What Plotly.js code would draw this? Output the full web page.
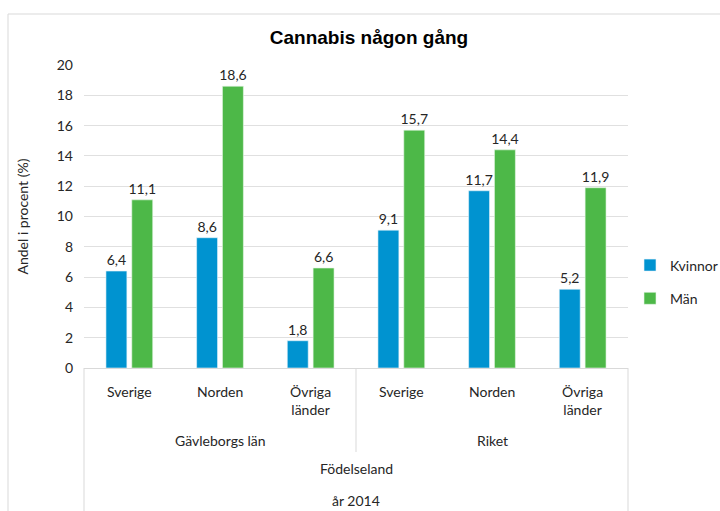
<!DOCTYPE html>
<html>
<head>
<meta charset="utf-8">
<script src="https://cdn.plot.ly/plotly-3.0.1.min.js"></script>
<style>
html,body{margin:0;padding:0;background:#fff;}
#chart{width:720px;height:511px;}
</style>
</head>
<body>
<div id="chart"></div>
<script>
// ---- data ----
var categories = ["Sverige", "Norden", "Övriga<br>länder", "Sverige", "Norden", "Övriga<br>länder"];
var groups = ["Gävleborgs län", "Riket"];
var groupOf = [0, 0, 0, 1, 1, 1];
var kvinnor = [6.4, 8.6, 1.8, 9.1, 11.7, 5.2];
var man = [11.1, 18.6, 6.6, 15.7, 14.4, 11.9];
var seriesNames = ["Kvinnor", "Män"];
var level3Label = "Födelseland";
var level4Label = "år 2014";
var yTicks = [0, 2, 4, 6, 8, 10, 12, 14, 16, 18, 20];
var chartTitle = "Cannabis någon gång";
var yTitle = "Andel i procent (%)";

// ---- layout helpers ----
var W = 720, H = 511;
var mL = 84, mR = 92, mT = 65, mB = 143;
var pw = W - mL - mR, ph = H - mT - mB;
function px(x) { return (x - mL) / pw; }
function py(y) { return (H - mB - y) / ph; }

var FONT = "Lato, 'Open Sans', sans-serif";
var TXT = "#262626";
var idx = categories.map(function (_, i) { return i; });
function fmt(v) { return v.toFixed(1).replace(".", ","); }

var traces = [
  {
    type: "bar", name: seriesNames[0], x: idx, y: kvinnor,
    text: kvinnor.map(fmt), textposition: "outside", cliponaxis: false, constraintext: "none",
    textfont: { family: FONT, size: 14, color: TXT },
    marker: { color: "#0093D0", line: { color: "#e8f4fa", width: 0.6 } },
    legendgroup: "a", hoverinfo: "none"
  },
  {
    type: "bar", name: seriesNames[1], x: idx, y: man,
    text: man.map(fmt), textposition: "outside", cliponaxis: false, constraintext: "none",
    textfont: { family: FONT, size: 14, color: TXT },
    marker: { color: "#4DB848", line: { color: "#e8f6e7", width: 0.6 } },
    legendgroup: "b", hoverinfo: "none"
  }
];

var annotations = [];
// level 1: category labels
categories.forEach(function (c, i) {
  annotations.push({
    x: i, xref: "x", y: py(381), yref: "paper", yanchor: "top",
    text: c, showarrow: false, align: "center",
    font: { family: FONT, size: 14, color: TXT }
  });
});
// level 2: groups
groups.forEach(function (g, gi) {
  var members = idx.filter(function (i) { return groupOf[i] === gi; });
  var cx = (members[0] + members[members.length - 1]) / 2;
  annotations.push({
    x: cx, xref: "x", y: py(440), yref: "paper", yanchor: "middle",
    text: g, showarrow: false,
    font: { family: FONT, size: 14, color: TXT }
  });
});
// levels 3 and 4
annotations.push({
  x: 0.5, xref: "paper", y: py(468), yref: "paper", yanchor: "middle",
  text: level3Label, showarrow: false, font: { family: FONT, size: 14, color: TXT }
});
annotations.push({
  x: 0.5, xref: "paper", y: py(500), yref: "paper", yanchor: "middle",
  text: level4Label, showarrow: false, font: { family: FONT, size: 14, color: TXT }
});
// y-axis title
annotations.push({
  x: px(22), xref: "paper", y: 0.5, yref: "paper", xanchor: "center", yanchor: "middle",
  text: yTitle, textangle: -90, showarrow: false, font: { family: FONT, size: 14, color: TXT }
});

var lineCol = "#d9d9d9";
var shapes = [
  // outer chart border (left + top)
  { type: "line", xref: "paper", yref: "paper", x0: px(8), x1: px(8), y0: py(14), y1: py(H + 5), line: { color: lineCol, width: 1 } },
  { type: "line", xref: "paper", yref: "paper", x0: px(8), x1: px(W + 5), y0: py(14), y1: py(14), line: { color: lineCol, width: 1 } },
  // category box outer verticals
  { type: "line", xref: "paper", yref: "paper", x0: 0, x1: 0, y0: 0, y1: py(H + 5), line: { color: lineCol, width: 1 } },
  { type: "line", xref: "paper", yref: "paper", x0: 1, x1: 1, y0: 0, y1: py(H + 5), line: { color: lineCol, width: 1 } }
];
// group separators
for (var i = 1; i < categories.length; i++) {
  if (groupOf[i] !== groupOf[i - 1]) {
    shapes.push({ type: "line", xref: "x", yref: "paper", x0: i - 0.5, x1: i - 0.5, y0: 0, y1: py(452), line: { color: lineCol, width: 1 } });
  }
}

var layout = {
  width: W, height: H,
  margin: { l: mL, r: mR, t: mT, b: mB, pad: 0, autoexpand: false },
  paper_bgcolor: "#fff", plot_bgcolor: "#fff",
  separators: ", ",
  barmode: "group", bargap: 0.43, bargroupgap: 0.19,
  title: {
    text: "<b>" + chartTitle + "</b>",
    x: 369 / W, xref: "container", xanchor: "center",
    y: 1 - 37 / H, yref: "container", yanchor: "middle",
    font: { family: "'Liberation Sans', Arial, sans-serif", size: 19, color: "#000" }
  },
  xaxis: {
    range: [-0.5, categories.length - 0.5], showticklabels: false,
    showgrid: false, zeroline: false, showline: true, linecolor: lineCol, linewidth: 1,
    ticks: "", fixedrange: true, automargin: false
  },
  yaxis: {
    range: [0, 20], tickvals: yTicks, ticktext: yTicks.map(String),
    showgrid: true, gridcolor: "#e0e0e0", gridwidth: 1,
    zeroline: false, showline: false, ticks: "", ticklabelstandoff: 10,
    tickfont: { family: FONT, size: 14, color: TXT },
    fixedrange: true, automargin: false
  },
  legend: {
    xref: "container", yref: "container",
    x: 630 / W, xanchor: "left", y: 1 - 282 / H, yanchor: "middle",
    font: { family: FONT, size: 14, color: TXT },
    tracegroupgap: 12, bgcolor: "rgba(0,0,0,0)", itemwidth: 30
  },
  annotations: annotations,
  shapes: shapes,
  showlegend: true
};

Plotly.newPlot("chart", traces, layout, { staticPlot: true, displayModeBar: false });
</script>
</body>
</html>
